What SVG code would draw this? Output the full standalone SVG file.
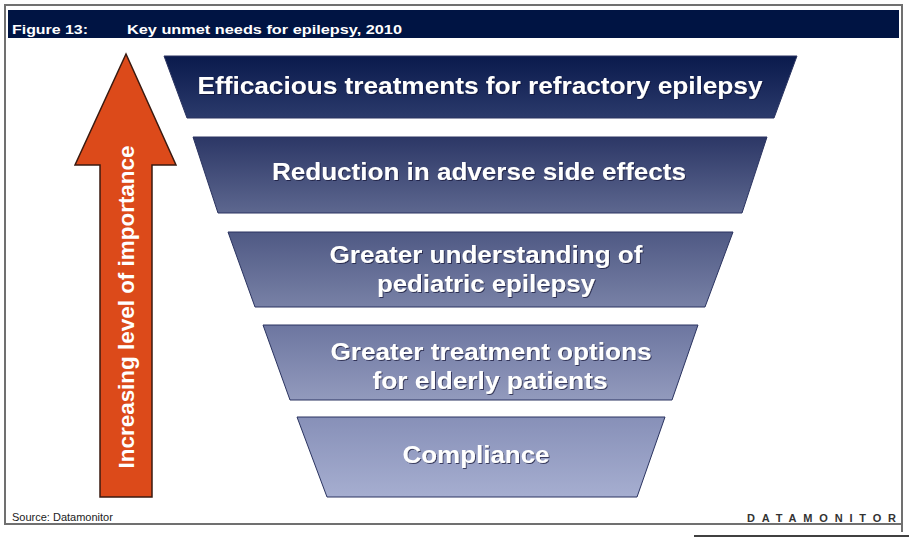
<svg xmlns="http://www.w3.org/2000/svg" width="909" height="537" viewBox="0 0 909 537">
<defs>
<linearGradient id="g1" x1="0" y1="0" x2="0" y2="1"><stop offset="0" stop-color="#0a1a4c"/><stop offset="1" stop-color="#2b3a6b"/></linearGradient>
<linearGradient id="g2" x1="0" y1="0" x2="0" y2="1"><stop offset="0" stop-color="#2c3766"/><stop offset="1" stop-color="#5d678f"/></linearGradient>
<linearGradient id="g3" x1="0" y1="0" x2="0" y2="1"><stop offset="0" stop-color="#4f5984"/><stop offset="1" stop-color="#7881a6"/></linearGradient>
<linearGradient id="g4" x1="0" y1="0" x2="0" y2="1"><stop offset="0" stop-color="#6d76a0"/><stop offset="1" stop-color="#929abd"/></linearGradient>
<linearGradient id="g5" x1="0" y1="0" x2="0" y2="1"><stop offset="0" stop-color="#8790b8"/><stop offset="1" stop-color="#a6aed0"/></linearGradient>
<filter id="sh" x="-5%" y="-20%" width="110%" height="140%"><feDropShadow dx="1" dy="1" stdDeviation="0.6" flood-color="#111833" flood-opacity="0.7"/></filter>
</defs>
<style>
.box{stroke:#2a3360;stroke-width:1}
.lbl{font-family:"Liberation Sans",Arial,sans-serif;font-weight:bold;font-size:23px;fill:#ffffff;text-anchor:middle;filter:url(#sh)}
.hdr{font-family:"Liberation Sans",Arial,sans-serif;font-weight:bold;font-size:13px;fill:#ffffff}
</style>
<rect x="0" y="0" width="909" height="537" fill="#ffffff"/>
<rect x="5" y="5" width="897" height="519" fill="#ffffff" stroke="#707070" stroke-width="2"/>
<line x1="902" y1="524" x2="902" y2="532" stroke="#707070" stroke-width="2"/>
<line x1="694" y1="536" x2="909" y2="536" stroke="#000000" stroke-width="1.5"/>
<g id="header">
<rect x="8" y="10" width="891" height="28" fill="#001443"/>
<text class="hdr" x="12" y="34" textLength="76" lengthAdjust="spacingAndGlyphs">Figure 13:</text>
<text class="hdr" x="127" y="34" textLength="275" lengthAdjust="spacingAndGlyphs">Key unmet needs for epilepsy, 2010</text>
</g>
<g id="arrow">
<polygon points="126,54 176,165 152,165 152,497 100,497 100,165 75,165" fill="#dc4a1a" stroke="#3a1a10" stroke-width="1.5"/>
<text transform="translate(134,307) rotate(-90)" font-family="Liberation Sans,Arial,sans-serif" font-weight="bold" font-size="22" fill="#ffffff" text-anchor="middle" textLength="323" lengthAdjust="spacingAndGlyphs">Increasing level of importance</text>
</g>
<g id="n1">
<polygon class="box" points="164,56 797,56 774,118 187,118" fill="url(#g1)"/>
<text class="lbl" x="480" y="94" textLength="565" lengthAdjust="spacingAndGlyphs">Efficacious treatments for refractory epilepsy</text>
</g>
<g id="n2">
<polygon class="box" points="193,137 767,137 742,213 218,213" fill="url(#g2)"/>
<text class="lbl" x="479" y="180" textLength="414" lengthAdjust="spacingAndGlyphs">Reduction in adverse side effects</text>
</g>
<g id="n3">
<polygon class="box" points="228,232 733,232 705,307 255,307" fill="url(#g3)"/>
<text class="lbl" x="486" y="263" textLength="313" lengthAdjust="spacingAndGlyphs">Greater understanding of</text>
<text class="lbl" x="486" y="292" textLength="218" lengthAdjust="spacingAndGlyphs">pediatric epilepsy</text>
</g>
<g id="n4">
<polygon class="box" points="263,325 698,325 672,400 290,400" fill="url(#g4)"/>
<text class="lbl" x="491" y="360" textLength="321" lengthAdjust="spacingAndGlyphs">Greater treatment options</text>
<text class="lbl" x="490" y="389" textLength="235" lengthAdjust="spacingAndGlyphs">for elderly patients</text>
</g>
<g id="n5">
<polygon class="box" points="297,417 665,417 637,497 327,497" fill="url(#g5)"/>
<text class="lbl" x="476" y="463" textLength="147" lengthAdjust="spacingAndGlyphs">Compliance</text>
</g>
<g id="footer">
<text x="12" y="521" font-family="Liberation Sans,Arial,sans-serif" font-size="11" fill="#222222">Source: Datamonitor</text>
<text x="747" y="522" font-family="Liberation Sans,Arial,sans-serif" font-weight="bold" font-size="11" fill="#333333" textLength="149" lengthAdjust="spacing">DATAMONITOR</text>
</g>
</svg>
